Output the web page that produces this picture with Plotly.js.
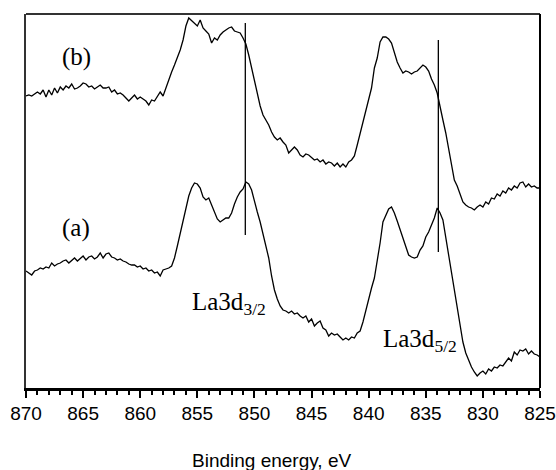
<!DOCTYPE html>
<html><head><meta charset="utf-8">
<script src="https://cdn.plot.ly/plotly-3.0.1.min.js"></script>
<style>html,body{margin:0;padding:0;background:#fff}#chart{width:556px;height:470px}</style>
</head><body><div id="chart"></div>
<script>
const energy = [
870,869.75,869.5,869.25,869,868.75,868.5,868.25,868,867.75,867.5,867.25,867,866.75,866.5,866.25,866,865.75,865.5,865.25,
865,864.75,864.5,864.25,864,863.75,863.5,863.25,863,862.75,862.5,862.25,862,861.75,861.5,861.25,861,860.75,860.5,860.25,
860,859.75,859.5,859.25,859,858.75,858.5,858.25,858,857.75,857.5,857.25,857,856.75,856.5,856.25,856,855.75,855.5,855.25,
855,854.75,854.5,854.25,854,853.75,853.5,853.25,853,852.75,852.5,852.25,852,851.75,851.5,851.25,851,850.75,850.5,850.25,
850,849.75,849.5,849.25,849,848.75,848.5,848.25,848,847.75,847.5,847.25,847,846.75,846.5,846.25,846,845.75,845.5,845.25,
845,844.75,844.5,844.25,844,843.75,843.5,843.25,843,842.75,842.5,842.25,842,841.75,841.5,841.25,841,840.75,840.5,840.25,
840,839.75,839.5,839.25,839,838.75,838.5,838.25,838,837.75,837.5,837.25,837,836.75,836.5,836.25,836,835.75,835.5,835.25,
835,834.75,834.5,834.25,834,833.75,833.5,833.25,833,832.75,832.5,832.25,832,831.75,831.5,831.25,831,830.75,830.5,830.25,
830,829.75,829.5,829.25,829,828.75,828.5,828.25,828,827.75,827.5,827.25,827,826.75,826.5,826.25,826,825.75,825.5,825.25,
825];

const spectrumB = [
292,293,292,294,296,294,298,291,298,293,300,295,301,298,302,300,304,299,300,302,
305,304,301,302,299,301,303,300,300,301,296,298,294,295,293,290,287,290,293,289,
291,289,287,283,288,287,291,296,292,300,310,316,323,330,338,348,362,370,367,365,
362,368,360,357,354,345,350,348,353,356,358,360,361,357,356,355,350,344,333,320,
306,292,282,273,268,263,256,251,248,250,246,243,235,238,241,238,233,231,234,233,
230,228,229,226,228,224,226,225,222,225,221,224,221,226,228,232,243,255,265,278,
288,300,320,330,346,351,351,349,345,335,326,320,315,317,316,314,316,317,320,323,
321,317,309,303,295,280,268,255,238,223,208,202,195,186,183,181,180,178,181,183,
181,186,184,190,189,194,192,197,195,200,198,202,200,205,206,201,204,201,202,200,
200];

const spectrumA = [
117,115,113,117,118,120,119,121,120,125,122,124,125,127,128,125,128,130,127,130,
132,128,131,132,129,131,135,130,134,135,131,130,128,129,127,126,124,123,123,121,
122,119,120,117,118,115,116,112,118,119,120,122,130,142,154,168,181,192,200,205,
204,200,191,188,190,183,176,169,166,168,170,170,175,184,191,196,199,206,204,198,
186,176,166,155,143,130,112,98,89,82,78,77,75,77,74,75,72,70,72,66,
69,62,65,67,60,58,52,55,53,54,51,48,50,48,51,50,55,57,66,78,
88,100,110,126,145,166,173,179,181,175,167,158,151,141,133,131,130,131,138,142,
151,156,163,170,180,175,168,150,133,118,98,80,61,46,35,27,21,16,12,15,
17,14,19,17,21,20,23,22,26,30,27,36,33,38,37,39,34,37,34,33,
31];

const peakLineEnergy = [850.8, 833.9];
const peakLineTop = [365, 348];
const peakLineBottom = [153, 136];

const labelText = ['(b)', '(a)', 'La3d<sub>3/2</sub>', 'La3d<sub>5/2</sub>'];
const labelEnergy = [865.6, 865.6, 852.2, 835.5];
const labelLevel = [331, 160, 85, 48];

const tickValues = [870, 865, 860, 855, 850, 845, 840, 835, 830, 825];
const tickLabels = ['870', '865', '860', '855', '850', '845', '840', '835', '830', '825'];
const xTitle = 'Binding energy, eV';

const lineStyle = {color: '#000', width: 1.3};

const traces = [
  {x: energy, y: spectrumB, type: 'scatter', mode: 'lines', line: lineStyle, hoverinfo: 'skip'},
  {x: energy, y: spectrumA, type: 'scatter', mode: 'lines', line: lineStyle, hoverinfo: 'skip'}
];

const shapes = [
  {type: 'line', xref: 'paper', yref: 'paper', x0: 0, x1: 1, y0: 1, y1: 1, line: {color: '#333', width: 2}},
  {type: 'line', xref: 'paper', yref: 'paper', x0: 1, x1: 1, y0: 0, y1: 1, line: {color: '#000', width: 2}}
];
peakLineEnergy.forEach((e, k) => {
  shapes.push({type: 'line', xref: 'x', yref: 'y', x0: e, x1: e, y0: peakLineBottom[k], y1: peakLineTop[k],
    line: {color: '#000', width: 1.3}});
});

const annotations = labelText.map((t, k) => ({
  text: t, x: labelEnergy[k], y: labelLevel[k], xref: 'x', yref: 'y',
  showarrow: false, xanchor: 'center', yanchor: 'middle',
  font: {family: 'Liberation Serif, Times New Roman, serif', size: 25, color: '#000'}
}));
annotations.push({
  text: xTitle, xref: 'paper', yref: 'paper', x: 0.4767, y: -0.195,
  showarrow: false, xanchor: 'center', yanchor: 'middle',
  font: {family: 'Liberation Sans, Arial, sans-serif', size: 19, color: '#000'}
});

const layout = {
  width: 556, height: 470,
  margin: {l: 26, r: 16, t: 14, b: 82},
  paper_bgcolor: '#fff', plot_bgcolor: '#fff',
  showlegend: false,
  xaxis: {
    range: [870, 825], tickmode: 'array', tickvals: tickValues, ticktext: tickLabels,
    ticks: 'outside', ticklen: 7, tickwidth: 2, tickcolor: '#000',
    showline: true, linecolor: '#000', linewidth: 2.5,
    showgrid: false, zeroline: false,
    tickfont: {family: 'Liberation Sans, Arial, sans-serif', size: 19, color: '#000'},
    minor: {tickmode: 'linear', tick0: 825, dtick: 1, ticks: 'outside', ticklen: 4, tickwidth: 2, tickcolor: '#000', showgrid: false}
  },
  yaxis: {
    range: [0, 374], showticklabels: false, ticks: '',
    showline: true, linecolor: '#333', linewidth: 2,
    showgrid: false, zeroline: false
  },
  shapes: shapes,
  annotations: annotations
};

Plotly.newPlot('chart', traces, layout, {staticPlot: true, displayModeBar: false});
</script>
</body></html>
